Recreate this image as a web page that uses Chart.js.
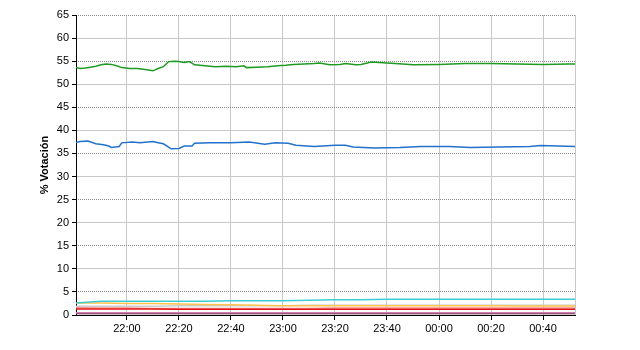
<!DOCTYPE html>
<html>
<head>
<meta charset="utf-8">
<script src="https://cdn.jsdelivr.net/npm/chart.js@4"></script>
<style>
    html, body { margin: 0; padding: 0; background: #fff; }
</style>
</head>
<body>
<canvas id="voteChart" width="640" height="350"></canvas>
<script>
// Vote share over the night (times)

const tickLabels = ['22:00', '22:20', '22:40', '23:00', '23:20', '23:40', '00:00', '00:20', '00:40'];

const greenTimes = ['21:40', '21:42', '21:44', '21:46', '21:48', '21:50', '21:52', '21:54', '21:56', '21:58',
    '22:01', '22:04', '22:07', '22:10', '22:12', '22:14', '22:16', '22:18', '22:20', '22:22', '22:24', '22:26',
    '22:30', '22:34', '22:38', '22:42', '22:45', '22:46', '22:50', '22:54', '22:58', '23:01', '23:04', '23:08',
    '23:12', '23:14', '23:18', '23:22', '23:24', '23:28', '23:30', '23:34', '23:40', '23:46', '23:50', '00:00',
    '00:10', '00:20', '00:30', '00:40', '00:50', '00:53'];
const greenValues = [53.7, 53.4, 53.5, 53.7, 53.9, 54.2, 54.4, 54.3, 54.0, 53.6,
    53.4, 53.4, 53.2, 52.9, 53.4, 53.8, 54.9, 55.0, 54.9, 54.7, 54.9, 54.2,
    54.0, 53.8, 53.9, 53.8, 54.0, 53.6, 53.7, 53.8, 54.0, 54.1, 54.3, 54.4,
    54.5, 54.6, 54.2, 54.3, 54.5, 54.2, 54.3, 54.8, 54.6, 54.4, 54.2, 54.3,
    54.5, 54.5, 54.4, 54.3, 54.4, 54.4];

const blueTimes = ['21:40', '21:42', '21:45', '21:48', '21:51', '21:53', '21:54', '21:57', '21:58', '22:02',
    '22:05', '22:10', '22:12', '22:14', '22:17', '22:20', '22:22', '22:25', '22:26', '22:32', '22:40', '22:47',
    '22:53', '22:57', '23:02', '23:05', '23:12', '23:20', '23:24', '23:27', '23:35', '23:45', '23:53', '00:04',
    '00:12', '00:23', '00:35', '00:39', '00:53'];
const blueValues = [37.3, 37.6, 37.7, 37.1, 36.9, 36.6, 36.3, 36.5, 37.3, 37.5,
    37.3, 37.6, 37.3, 37.1, 36.0, 36.1, 36.6, 36.6, 37.2, 37.3, 37.3, 37.5,
    37.0, 37.3, 37.2, 36.8, 36.5, 36.8, 36.8, 36.4, 36.2, 36.3, 36.5, 36.5,
    36.3, 36.4, 36.5, 36.7, 36.5];

const minorTimes = ['21:40', '21:50', '22:00', '22:10', '22:20', '22:30', '22:40', '22:50', '23:00', '23:10',
    '23:20', '23:30', '23:40', '23:50', '00:00', '00:10', '00:20', '00:30', '00:40', '00:53'];
const cyanValues = [2.6, 3.0, 3.0, 3.0, 3.0, 3.0, 3.1, 3.1, 3.1, 3.2, 3.3, 3.3, 3.4, 3.4, 3.4, 3.4, 3.4, 3.4, 3.4, 3.4];
const orangeValues = [2.6, 2.6, 2.5, 2.5, 2.4, 2.3, 2.2, 2.1, 2.0, 2.0, 2.0, 2.0, 2.0, 2.0, 2.0, 2.0, 2.0, 1.95, 1.95, 1.95];
const grayValues = [1.9, 1.9, 1.9, 1.9, 2.0, 2.0, 2.0, 2.0, 2.0, 2.1, 2.1, 2.1, 2.1, 2.1, 2.1, 2.1, 2.1, 2.1, 2.1, 2.1];
const salmonValues = [1.6, 1.5, 1.5, 1.4, 1.4, 1.4, 1.4, 1.4, 1.4, 1.4, 1.5, 1.5, 1.5, 1.5, 1.5, 1.5, 1.5, 1.5, 1.5, 1.5];
const redValues = [1.3, 1.3, 1.3, 1.3, 1.25, 1.25, 1.25, 1.25, 1.25, 1.25, 1.25, 1.25, 1.25, 1.25, 1.25, 1.25, 1.25, 1.25, 1.25, 1.25];
const pinkValues = [0.5, 0.5, 0.5, 0.5, 0.5, 0.5, 0.5, 0.5, 0.5, 0.5, 0.5, 0.5, 0.5, 0.5, 0.5, 0.5, 0.5, 0.5, 0.5, 0.5];
const maroonValues = [0.3, 0.3, 0.3, 0.3, 0.3, 0.3, 0.3, 0.3, 0.3, 0.3, 0.3, 0.3, 0.3, 0.3, 0.3, 0.3, 0.3, 0.3, 0.3, 0.3];

// minutes relative to 22:00 (after-midnight times roll over)
function toMin(t) {
    let [h, m] = t.split(':').map(Number);
    if (h < 12) h += 24;
    return h * 60 + m - 22 * 60;
}

const X_MIN = -19.6;
const X_MAX = 172.3;
const tickMins = tickLabels.map(toMin);

function series(times, values, color, width) {
    return {
        data: times.map((t, i) => ({ x: toMin(t), y: values[i] })),
        borderColor: color,
        borderWidth: width,
        pointRadius: 0,
        tension: 0,
        fill: false
    };
}

const font = { family: '"Liberation Sans", Arial, sans-serif', size: 11 };

new Chart(document.getElementById('voteChart'), {
    type: 'line',
    data: {
        datasets: [
            series(greenTimes, greenValues, '#1f9a22', 1.5),
            series(blueTimes, blueValues, '#2272cc', 1.5),
            series(minorTimes, cyanValues, '#3cccd2', 1.5),
            series(minorTimes, orangeValues, '#ffc24a', 1.5),
            series(minorTimes, grayValues, '#cccccc', 1.5),
            series(minorTimes, redValues, '#e01818', 1.5),
            series(minorTimes, salmonValues, '#ff8c8c', 1.5),
            series(minorTimes, pinkValues, '#d080b0', 1.5),
            series(minorTimes, maroonValues, '#6a2040', 1.5)
        ]
    },
    options: {
        responsive: false,
        animation: false,
        devicePixelRatio: 1,
        layout: { padding: { top: 15, right: 65, bottom: 0, left: 0 } },
        plugins: {
            legend: { display: false },
            tooltip: { enabled: false }
        },
        scales: {
            x: {
                type: 'linear',
                min: X_MIN,
                max: X_MAX,
                afterBuildTicks: (scale) => {
                    scale.ticks = tickMins.concat([X_MAX]).map(v => ({ value: v }));
                },
                afterFit: (scale) => { scale.height = 35; },
                grid: {
                    color: '#c8c8c8',
                    lineWidth: 1,
                    tickLength: 5,
                    tickColor: (ctx) => (ctx.tick && ctx.tick.value === X_MAX ? 'rgba(0,0,0,0)' : '#000')
                },
                border: { color: '#000', width: 1 },
                ticks: {
                    color: '#000',
                    font: font,
                    padding: 2,
                    maxRotation: 0,
                    autoSkip: false,
                    callback: (v) => {
                        const i = tickMins.indexOf(v);
                        return i >= 0 ? tickLabels[i] : '';
                    }
                }
            },
            y: {
                min: 0,
                max: 65,
                afterFit: (scale) => { scale.width = 76; },
                ticks: { stepSize: 5, color: '#000', font: font, padding: 3 },
                grid: {
                    color: (ctx) => (ctx.tick && ctx.tick.value % 10 === 0 ? '#c8c8c8' : 'rgba(0,0,0,0)'),
                    tickLength: 4,
                    tickColor: '#000'
                },
                border: { color: '#000', width: 1 },
                title: {
                    display: true,
                    text: '% Votación',
                    color: '#000',
                    font: { family: font.family, size: 11, weight: 'bold' },
                    padding: { top: 38, bottom: 0 }
                }
            },
            yDots: {
                position: 'left',
                min: 0,
                max: 65,
                afterBuildTicks: (scale) => {
                    scale.ticks = [5, 15, 25, 35, 45, 55, 65].map(v => ({ value: v }));
                },
                afterFit: (scale) => { scale.width = 0; },
                ticks: { display: false },
                grid: { color: '#8a8a8a', lineWidth: 1, drawTicks: false },
                border: { display: false, dash: [1, 1] }
            }
        }
    }
});
</script>
</body>
</html>
